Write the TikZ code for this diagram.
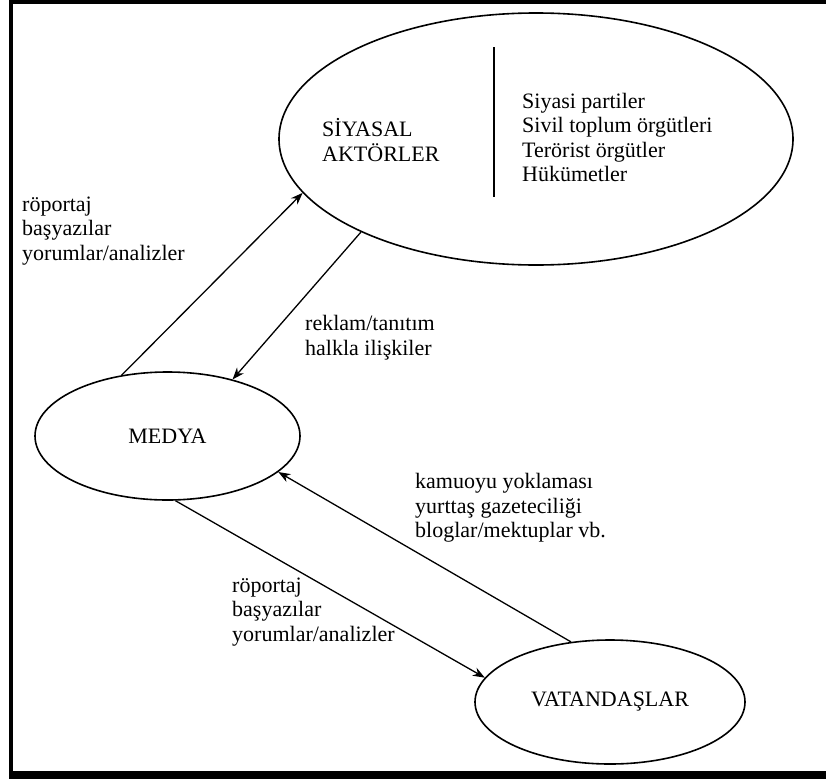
\documentclass[tikz,border=0pt]{standalone}
\usepackage{fontspec}
\setmainfont{Liberation Serif}
\usetikzlibrary{shapes.geometric,arrows.meta}
\begin{document}
\begin{tikzpicture}[x=1pt,y=-1pt,
  every node/.style={font=\fontsize{22}{24.5}\selectfont, inner sep=0pt},
  ell/.style={draw, shape=ellipse, line width=1.6pt},
  lbl/.style={align=left, anchor=west},
  arr/.style={line width=1.3pt, -{Stealth[length=12pt,width=9pt]}}]
\useasboundingbox (0,0) rectangle (826,779);
\fill[white] (0,0) rectangle (826,779);
% frame
\draw[line width=3.5pt] (9,1.75) -- (826,1.75);
\draw[line width=4pt] (11,0) -- (11,779);
\draw[line width=8pt] (9,775) -- (826,775);
% ellipses
\node[ell, minimum width=514pt, minimum height=252pt] (pol) at (536,139) {};
\node[ell, minimum width=265pt, minimum height=128pt] (med) at (167.5,436) {MEDYA};
\node[ell, minimum width=270pt, minimum height=124pt] (vat) at (610,702) {VATANDAŞLAR};
% inner content of big ellipse
\node[lbl] (poltxt) at (322,140) {SİYASAL\\AKTÖRLER};
\coordinate (divtop) at (494,47);
\coordinate (divbot) at (494,197);
\draw[line width=1.3pt] (divtop) -- (divbot);
\node[lbl] (list) at (522,137.5) {Siyasi partiler\\Sivil toplum örgütleri\\Terörist örgütler\\Hükümetler};
% arrows
\draw[arr] (med.127) -- (pol.193.6);
\draw[arr] (pol.208) -- (med.41.5);
\draw[arr] (vat.123) -- (med.-18.5);
\draw[arr] (med.-83.5) -- (vat.169);
% labels
\node[lbl] (l1) at (22,231) {röportaj\\başyazılar\\yorumlar/analizler};
\node[lbl] (l2) at (305,337.5) {reklam/tanıtım\\halkla ilişkiler};
\node[lbl] (l3) at (415,508) {kamuoyu yoklaması\\yurttaş gazeteciliği\\bloglar/mektuplar vb.};
\node[lbl] (l4) at (232,612) {röportaj\\başyazılar\\yorumlar/analizler};
\end{tikzpicture}
\end{document}
